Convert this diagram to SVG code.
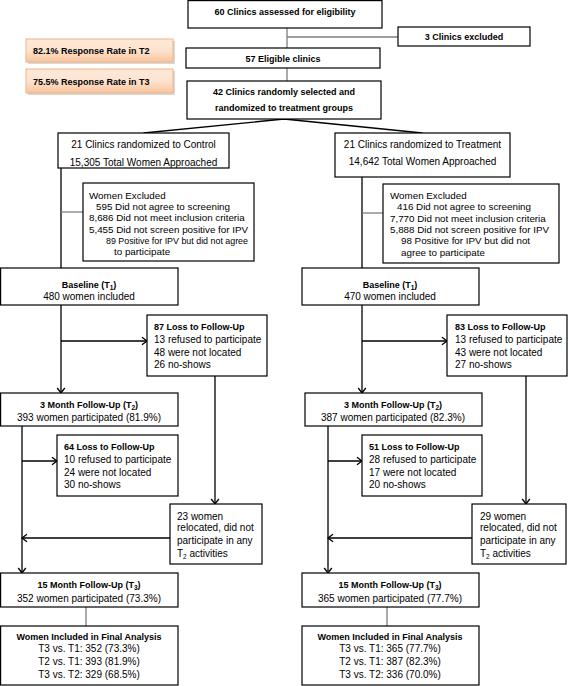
<svg xmlns="http://www.w3.org/2000/svg" width="568" height="686" viewBox="0 0 568 686">
<defs>
<style>
text{font-family:"Liberation Sans",Arial,sans-serif;font-size:10px;fill:#000}
.b{font-weight:bold;font-size:9px}
.c{text-anchor:middle}
.ex{font-size:9.8px}
.box{fill:#fff;stroke:#000;stroke-width:1.2}
.ln{fill:none;stroke:#000;stroke-width:1.3}
.gl{fill:none;stroke:#7f7f7f;stroke-width:1.3}
.rr{fill:url(#og);stroke:#f4b183;stroke-width:1}
.sh{fill:#d9d9d9}
.sub{font-size:6.5px}
</style>
<linearGradient id="og" x1="0" y1="0" x2="0" y2="1">
<stop offset="0" stop-color="#fde9d9"/>
<stop offset="0.5" stop-color="#fde3cf"/>
<stop offset="1" stop-color="#f9c49c"/>
</linearGradient>
<marker id="arr" viewBox="-6 -5 8 10" markerWidth="8" markerHeight="10" refX="0" refY="0" orient="auto" markerUnits="userSpaceOnUse">
<path d="M-5,-3.8 L0,0 L-5,3.8" fill="none" stroke="#000" stroke-width="1.3"/>
</marker>
</defs>

<g id="connectors">
<line class="gl" x1="287" y1="28" x2="287" y2="48"/>
<line class="gl" x1="287" y1="37" x2="398" y2="37"/>
<line class="gl" x1="287" y1="68" x2="287" y2="81"/>
<polyline class="ln" points="143.5,133 284,119 422.5,133"/>
<line class="ln" x1="61" y1="168" x2="61" y2="268"/>
<line class="gl" x1="61" y1="212" x2="83" y2="212"/>
<line class="ln" x1="362" y1="177" x2="362" y2="268"/>
<line class="gl" x1="362" y1="213" x2="383" y2="213"/>
<line class="ln" x1="61" y1="305" x2="61" y2="393" marker-end="url(#arr)"/>
<line class="ln" x1="61" y1="341" x2="147" y2="341" marker-end="url(#arr)"/>
<line class="ln" x1="215" y1="376" x2="215" y2="504" marker-end="url(#arr)"/>
<line class="ln" x1="22" y1="426" x2="22" y2="573" marker-end="url(#arr)"/>
<line class="ln" x1="22" y1="461" x2="57" y2="461" marker-end="url(#arr)"/>
<line class="ln" x1="170" y1="538" x2="22" y2="538" marker-end="url(#arr)"/>
<line class="gl" x1="86" y1="607" x2="86" y2="626"/>
<line class="ln" x1="362" y1="305" x2="362" y2="393" marker-end="url(#arr)"/>
<line class="ln" x1="362" y1="341" x2="447" y2="341" marker-end="url(#arr)"/>
<line class="ln" x1="526" y1="376" x2="526" y2="504" marker-end="url(#arr)"/>
<line class="ln" x1="328" y1="426" x2="328" y2="573" marker-end="url(#arr)"/>
<line class="ln" x1="328" y1="461" x2="362" y2="461" marker-end="url(#arr)"/>
<line class="ln" x1="472" y1="538" x2="328" y2="538" marker-end="url(#arr)"/>
<line class="gl" x1="387" y1="607" x2="387" y2="626"/>
</g>

<g id="rate-t2">
<rect class="sh" x="28" y="41" width="147" height="23"/>
<rect class="rr" x="26" y="39" width="147" height="23"/>
<text class="b" x="33" y="54">82.1% Response Rate in T2</text>
</g>
<g id="rate-t3">
<rect class="sh" x="28" y="71" width="147" height="24"/>
<rect class="rr" x="26" y="69" width="147" height="24"/>
<text class="b" x="33" y="85">75.5% Response Rate in T3</text>
</g>

<g id="assessed">
<rect class="box" x="188" y="0.6" width="194" height="27.4"/>
<text class="b c" x="285" y="15">60 Clinics assessed for eligibility</text>
</g>
<g id="excluded">
<rect class="box" x="398" y="27" width="132" height="19"/>
<text class="b c" x="464" y="40">3 Clinics excluded</text>
</g>
<g id="eligible">
<rect class="box" x="186" y="48" width="194" height="20"/>
<text class="b c" x="283" y="62">57 Eligible clinics</text>
</g>
<g id="randomized">
<rect class="box" x="187" y="81" width="194" height="38"/>
<text class="b c" x="284" y="95">42 Clinics randomly selected and</text>
<text class="b c" x="284" y="111">randomized to treatment groups</text>
</g>

<g id="control">
<rect class="box" x="58" y="133" width="171" height="35"/>
<text class="c" x="143.5" y="147.5">21 Clinics randomized to Control</text>
<text class="c" x="143.5" y="166">15,305 Total Women Approached</text>
</g>
<g id="treatment">
<rect class="box" x="335" y="133" width="175" height="44"/>
<text class="c" x="422.5" y="147.5">21 Clinics randomized to Treatment</text>
<text class="c" x="422.5" y="164.5">14,642 Total Women Approached</text>
</g>

<g id="excl-control">
<rect class="box" x="83" y="183" width="171" height="78"/>
<text class="ex" x="89" y="198.5">Women Excluded</text>
<text class="ex" x="96" y="209.5">595 Did not agree to screening</text>
<text class="ex" x="89" y="221">8,686 Did not meet inclusion criteria</text>
<text class="ex" x="89" y="232.5">5,455 Did not screen positive for IPV</text>
<text class="ex" x="106" y="243.5" textLength="142" lengthAdjust="spacingAndGlyphs">89 Positive for IPV but did not agree</text>
<text class="ex" x="114" y="255">to participate</text>
</g>
<g id="excl-treatment">
<rect class="box" x="383" y="184" width="176" height="79"/>
<text class="ex" x="390" y="199">Women Excluded</text>
<text class="ex" x="397" y="210">416 Did not agree to screening</text>
<text class="ex" x="390" y="221.5">7,770 Did not meet inclusion criteria</text>
<text class="ex" x="390" y="233">5,888 Did not screen positive for IPV</text>
<text class="ex" x="401" y="244">98 Positive for IPV but did not</text>
<text class="ex" x="401" y="255.5">agree to participate</text>
</g>

<g id="baseline-control">
<rect class="box" x="0.6" y="268" width="177.4" height="37"/>
<text class="b c" x="89" y="287.5">Baseline (T<tspan class="sub" dy="2">1</tspan><tspan dy="-2">)</tspan></text>
<text class="c" x="89" y="299.5">480 women included</text>
</g>
<g id="baseline-treatment">
<rect class="box" x="302" y="268" width="177" height="37"/>
<text class="b c" x="390" y="287.5">Baseline (T<tspan class="sub" dy="2">1</tspan><tspan dy="-2">)</tspan></text>
<text class="c" x="390" y="299.5">470 women included</text>
</g>

<g id="loss1-control">
<rect class="box" x="147" y="315" width="120" height="61"/>
<text class="b" x="154" y="330">87 Loss to Follow-Up</text>
<text x="154" y="343">13 refused to participate</text>
<text x="154" y="355.5">48 were not located</text>
<text x="154" y="368">26 no-shows</text>
</g>
<g id="loss1-treatment">
<rect class="box" x="447" y="315" width="120" height="61"/>
<text class="b" x="455" y="330">83 Loss to Follow-Up</text>
<text x="455" y="343">13 refused to participate</text>
<text x="455" y="355.5">43 were not located</text>
<text x="455" y="368">27 no-shows</text>
</g>

<g id="t2-control">
<rect class="box" x="0.6" y="393" width="177.4" height="33"/>
<text class="b c" x="89" y="407.5">3 Month Follow-Up (T<tspan class="sub" dy="2">2</tspan><tspan dy="-2">)</tspan></text>
<text class="c" x="89" y="420.5">393 women participated (81.9%)</text>
</g>
<g id="t2-treatment">
<rect class="box" x="305" y="393" width="177" height="33"/>
<text class="b c" x="393" y="407.5">3 Month Follow-Up (T<tspan class="sub" dy="2">2</tspan><tspan dy="-2">)</tspan></text>
<text class="c" x="393" y="420.5">387 women participated (82.3%)</text>
</g>

<g id="loss2-control">
<rect class="box" x="57" y="435" width="121" height="61"/>
<text class="b" x="64" y="449.5">64 Loss to Follow-Up</text>
<text x="64" y="463">10 refused to participate</text>
<text x="64" y="475.5">24 were not located</text>
<text x="64" y="488">30 no-shows</text>
</g>
<g id="loss2-treatment">
<rect class="box" x="362" y="435" width="120" height="61"/>
<text class="b" x="369" y="449.5">51 Loss to Follow-Up</text>
<text x="369" y="463">28 refused to participate</text>
<text x="369" y="475.5">17 were not located</text>
<text x="369" y="488">20 no-shows</text>
</g>

<g id="relocated-control">
<rect class="box" x="170" y="504" width="92" height="60"/>
<text x="177" y="519.5">23 women</text>
<text x="177" y="531">relocated, did not</text>
<text x="177" y="544">participate in any</text>
<text x="177" y="557">T<tspan class="sub" dy="2">2</tspan><tspan dy="-2"> activities</tspan></text>
</g>
<g id="relocated-treatment">
<rect class="box" x="472" y="504" width="94" height="60"/>
<text x="480" y="519.5">29 women</text>
<text x="480" y="531">relocated, did not</text>
<text x="480" y="544">participate in any</text>
<text x="480" y="557">T<tspan class="sub" dy="2">2</tspan><tspan dy="-2"> activities</tspan></text>
</g>

<g id="t3-control">
<rect class="box" x="0.6" y="573" width="177.4" height="34"/>
<text class="b c" x="89" y="587.5">15 Month Follow-Up (T<tspan class="sub" dy="2">3</tspan><tspan dy="-2">)</tspan></text>
<text class="c" x="89" y="601.5">352 women participated (73.3%)</text>
</g>
<g id="t3-treatment">
<rect class="box" x="302" y="573" width="177" height="34"/>
<text class="b c" x="390" y="587.5">15 Month Follow-Up (T<tspan class="sub" dy="2">3</tspan><tspan dy="-2">)</tspan></text>
<text class="c" x="390" y="601.5">365 women participated (77.7%)</text>
</g>

<g id="final-control">
<rect class="box" x="0.6" y="626" width="177.4" height="59"/>
<text class="b c" x="89" y="640">Women Included in Final Analysis</text>
<text class="c" x="89" y="651.5">T3 vs. T1: 352 (73.3%)</text>
<text class="c" x="89" y="665">T2 vs. T1: 393 (81.9%)</text>
<text class="c" x="89" y="677.5">T3 vs. T2: 329 (68.5%)</text>
</g>
<g id="final-treatment">
<rect class="box" x="302" y="626" width="177" height="59"/>
<text class="b c" x="390" y="640">Women Included in Final Analysis</text>
<text class="c" x="390" y="651.5">T3 vs. T1: 365 (77.7%)</text>
<text class="c" x="390" y="665">T2 vs. T1: 387 (82.3%)</text>
<text class="c" x="390" y="677.5">T3 vs. T2: 336 (70.0%)</text>
</g>
</svg>
